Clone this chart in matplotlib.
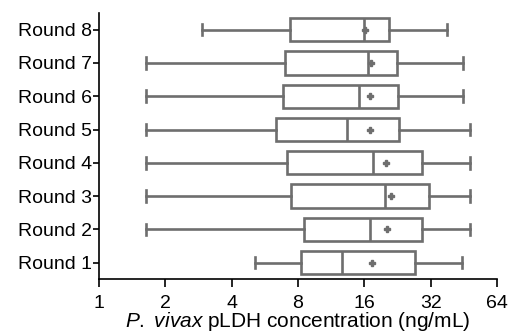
import numpy as np
import matplotlib.pyplot as plt
from matplotlib.ticker import FixedLocator, FixedFormatter, NullLocator

plt.rcParams['font.family'] = ['Liberation Sans', 'DejaVu Sans']
plt.rcParams['mathtext.fontset'] = 'custom'
plt.rcParams['mathtext.it'] = 'Liberation Sans:italic'
plt.rcParams['mathtext.rm'] = 'Liberation Sans'

# box statistics (ng/mL), Round 1 .. Round 8
labels = ["Round 1", "Round 2", "Round 3", "Round 4",
          "Round 5", "Round 6", "Round 7", "Round 8"]
whislo = [5.1, 1.64, 1.64, 1.64, 1.64, 1.64, 1.64, 2.92]
q1 = [8.26, 8.55, 7.47, 7.11, 6.36, 6.85, 6.99, 7.39]
med = [12.7, 17.0, 19.85, 17.5, 13.3, 15.2, 16.7, 15.9]
mean = [17.4, 20.3, 21.05, 20.0, 16.9, 17.0, 17.1, 16.1]
q3 = [27.1, 29.3, 31.6, 29.3, 23.1, 22.8, 22.5, 20.8]
whishi = [44.4, 48.1, 48.1, 48.1, 48.1, 44.9, 44.9, 38.1]

xticks = [1, 2, 4, 8, 16, 32, 64]

stats = []
for i in range(len(labels)):
    stats.append({"label": labels[i], "whislo": whislo[i], "q1": q1[i],
                  "med": med[i], "mean": mean[i], "q3": q3[i],
                  "whishi": whishi[i], "fliers": []})

grey = "#6e6e6e"
lw = 1.9

fig = plt.figure(figsize=(5.11, 3.36), dpi=100)
ax = fig.add_axes([0.1937, 0.1687, 0.7789, 0.7926])

ax.bxp(stats, positions=range(1, 9), vert=False, widths=0.7,
       showmeans=True, patch_artist=True,
       boxprops=dict(facecolor="white", edgecolor=grey, linewidth=lw),
       whiskerprops=dict(color=grey, linewidth=lw),
       capprops=dict(color=grey, linewidth=lw),
       medianprops=dict(color=grey, linewidth=lw),
       meanprops=dict(marker="P", markerfacecolor=grey, markeredgecolor=grey,
                      markersize=4.5))

ax.set_xscale("log", base=2)
ax.set_xlim(1, 64)
ax.xaxis.set_major_locator(FixedLocator(xticks))
ax.xaxis.set_major_formatter(FixedFormatter([str(t) for t in xticks]))
ax.xaxis.set_minor_locator(NullLocator())
ax.set_ylim(0.5, 8.5)
ax.set_yticks(range(1, 9))
ax.set_yticklabels(labels)

for s in ["top", "right"]:
    ax.spines[s].set_visible(False)
for s in ["left", "bottom"]:
    ax.spines[s].set_linewidth(1.2)
ax.tick_params(axis="y", length=4, width=1.2, labelsize=14, pad=1)
ax.tick_params(axis="x", length=6, width=1.2, labelsize=14, pad=5)

ax.set_xlabel(r"$\it{P.\ vivax}$ pLDH concentration (ng/mL)", fontsize=15,
              labelpad=-1)

fig.savefig("out.png", dpi=100)
